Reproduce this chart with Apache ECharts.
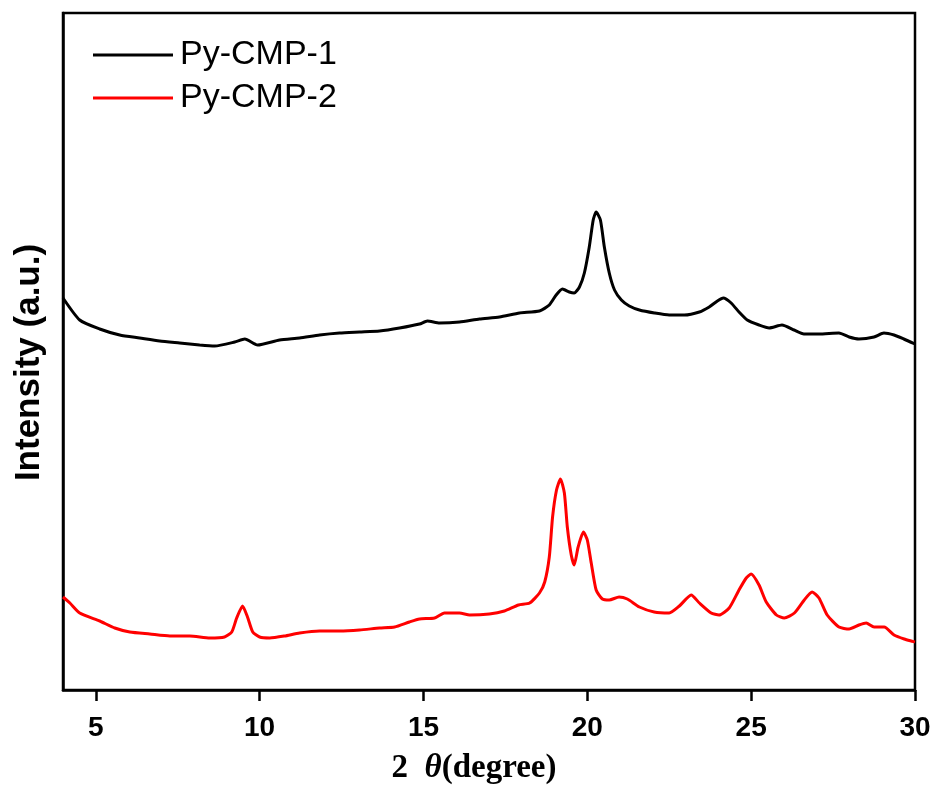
<!DOCTYPE html>
<html>
<head>
<meta charset="utf-8">
<script src="https://cdn.jsdelivr.net/npm/echarts@6/dist/echarts.min.js"></script>
<style>
  html, body { margin: 0; padding: 0; background: #fff; }
  #chart { width: 937px; height: 792px; }
</style>
</head>
<body>
<div id="chart"></div>
<script>
// 2θ positions (degree) and intensities (a.u.)
const theta1 = [4.00, 4.51, 5.12, 5.73, 6.34, 6.95, 7.56, 8.17, 8.63, 9.24, 9.55, 9.94, 10.61, 11.22,
  11.83, 12.44, 13.05, 13.66, 14.27, 14.88, 15.12, 15.49, 16.10, 16.71, 17.32, 17.93, 18.54, 18.84,
  19.05, 19.24, 19.45, 19.60, 19.76, 19.91, 20.06, 20.18, 20.27, 20.40, 20.52, 20.67, 20.83, 21.04,
  21.28, 21.59, 22.05, 22.50, 22.96, 23.42, 23.72, 23.97, 24.15, 24.39, 24.63, 24.88, 25.24, 25.55,
  25.94, 26.31, 26.61, 27.07, 27.68, 27.99, 28.29, 28.75, 29.05, 29.36, 29.66, 30.00]
const cmp1 = [392, 370, 361, 355, 352, 349, 347, 345, 344, 348, 351, 345, 350, 352,
  355, 357, 358, 359, 362, 366, 369, 367, 368, 371, 373, 377, 379, 385,
  395, 401, 398, 397, 403, 417, 443, 470, 478, 470, 443, 417, 400, 390,
  384, 380, 377, 375, 375, 378, 383, 389, 392, 387, 378, 370, 365, 362,
  365, 360, 356, 356, 357, 353, 351, 353, 357, 355, 351, 346]

const theta2 = [4.00, 4.21, 4.51, 5.12, 5.58, 6.04, 6.65, 7.26, 7.87, 8.48, 8.93, 9.15, 9.30, 9.48,
  9.63, 9.79, 10.00, 10.31, 10.76, 11.22, 11.83, 12.44, 13.05, 13.66, 14.12, 14.57, 14.88, 15.34,
  15.64, 16.10, 16.41, 17.01, 17.47, 17.90, 18.24, 18.54, 18.70, 18.84, 18.94, 19.06, 19.18, 19.30,
  19.39, 19.51, 19.60, 19.72, 19.88, 20.00, 20.12, 20.27, 20.46, 20.67, 20.97, 21.22, 21.59, 22.04,
  22.50, 22.81, 23.17, 23.42, 23.78, 24.02, 24.33, 24.63, 24.85, 25.00, 25.24, 25.46, 25.77, 26.01,
  26.32, 26.62, 26.86, 27.07, 27.32, 27.68, 27.99, 28.29, 28.51, 28.75, 29.06, 29.36, 29.67, 30.00]
const cmp2 = [93, 87, 77, 69, 62, 58, 56, 54, 54, 52, 53, 58, 72, 84,
  73, 58, 53, 52, 54, 57, 59, 59, 60, 62, 63, 68, 71, 72,
  77, 77, 75, 76, 79, 85, 87, 97, 108, 133, 173, 200, 211, 197,
  163, 135, 125, 143, 158, 150, 127, 100, 91, 90, 93, 91, 83, 78,
  77, 84, 95, 87, 77, 75, 82, 100, 112, 116, 105, 88, 75, 72,
  77, 90, 98, 92, 75, 63, 61, 65, 67, 63, 63, 55, 51, 48]

const xTicks = [5, 10, 15, 20, 25, 30]
const seriesNames = ['Py-CMP-1', 'Py-CMP-2']

function pairs(xs, ys) {
  return xs.map((x, i) => [x, ys[i]])
}

const chart = echarts.init(document.getElementById('chart'))
chart.setOption({
  animation: false,
  backgroundColor: '#fff',
  grid: {
    left: 63,
    right: 22,
    top: 13,
    bottom: 102,
    outerBoundsMode: 'none',
    show: true,
    borderColor: '#000',
    borderWidth: 2.5
  },
  legend: {
    orient: 'vertical',
    left: 88,
    top: 32,
    icon: 'rect',
    itemWidth: 80,
    itemHeight: 3,
    itemGap: 7,
    textStyle: {
      fontFamily: 'Liberation Sans, Arial',
      fontSize: 34,
      lineHeight: 36,
      color: '#000',
      padding: [0, 0, 0, 2]
    },
    data: seriesNames
  },
  xAxis: {
    type: 'value',
    min: 4,
    max: 30,
    name: '2  {i|θ}(degree)',
    nameLocation: 'middle',
    nameGap: 62,
    nameTextStyle: {
      fontFamily: 'Liberation Serif, Times New Roman',
      fontWeight: 'bold',
      fontSize: 33,
      color: '#000',
      padding: [0, 30, 0, 0],
      rich: {
        i: {
          fontFamily: 'Liberation Serif, Times New Roman',
          fontStyle: 'italic',
          fontWeight: 'bold',
          fontSize: 33,
          color: '#000'
        }
      }
    },
    axisLine: { show: true, onZero: false, lineStyle: { color: '#000', width: 2.5 } },
    axisTick: { show: true, length: 11, customValues: xTicks, lineStyle: { color: '#000', width: 2.5 } },
    axisLabel: {
      customValues: xTicks,
      margin: 24,
      fontFamily: 'Liberation Sans, Arial',
      fontWeight: 'bold',
      fontSize: 28,
      color: '#000'
    },
    splitLine: { show: false }
  },
  yAxis: {
    type: 'value',
    min: 0,
    max: 677,
    name: 'Intensity (a.u.)',
    nameLocation: 'middle',
    nameGap: 16,
    nameTextStyle: {
      fontFamily: 'Liberation Sans, Arial',
      fontWeight: 'bold',
      fontSize: 35,
      color: '#000',
      padding: [0, 22, 0, 0]
    },
    axisLine: { show: true, onZero: false, lineStyle: { color: '#000', width: 2.5 } },
    axisTick: { show: false },
    axisLabel: { show: false },
    splitLine: { show: false }
  },
  series: [
    {
      name: seriesNames[0],
      type: 'line',
      data: pairs(theta1, cmp1),
      showSymbol: false,
      smooth: 0.2,
      color: '#000',
      lineStyle: { color: '#000', width: 3 }
    },
    {
      name: seriesNames[1],
      type: 'line',
      data: pairs(theta2, cmp2),
      showSymbol: false,
      smooth: 0.2,
      color: '#ff0000',
      lineStyle: { color: '#ff0000', width: 3 }
    }
  ]
})
</script>
</body>
</html>
